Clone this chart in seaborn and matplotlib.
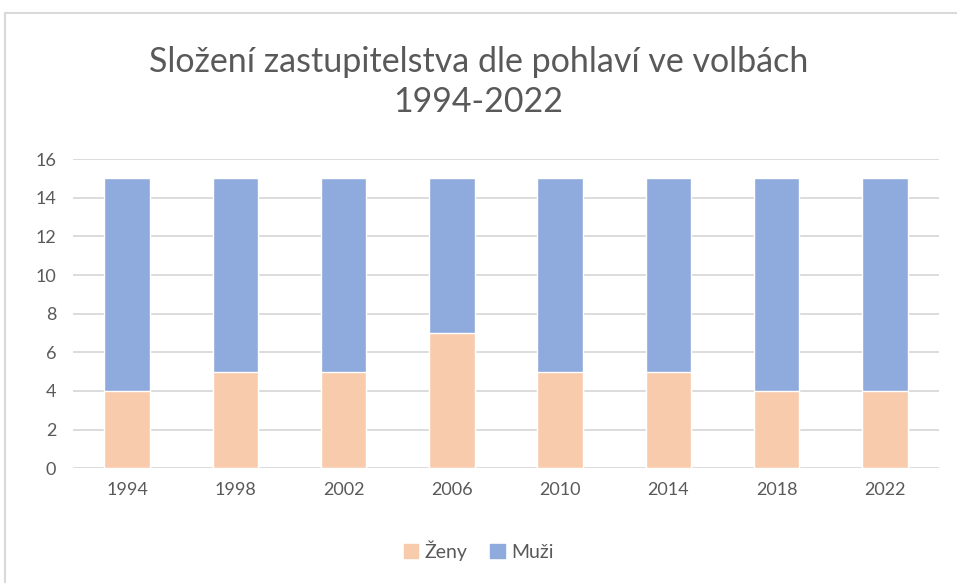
import matplotlib
matplotlib.use("Agg")
import matplotlib.pyplot as plt
import matplotlib.patches as mpatches
import seaborn as sns
import pandas as pd

# data
years = ["1994", "1998", "2002", "2006", "2010", "2014", "2018", "2022"]
zeny = [4, 5, 5, 7, 5, 5, 4, 4]
muzi = [11, 10, 10, 8, 10, 10, 11, 11]

ZENY_COLOR = "#F8CBAD"
MUZI_COLOR = "#8FAADC"
TEXT_COLOR = "#595959"

df = pd.DataFrame({"rok": years, "Ženy": zeny, "Muži": muzi})
df["celkem"] = df["Ženy"] + df["Muži"]

sns.set_style("white")
plt.rcParams["font.family"] = ["Lato", "DejaVu Sans"]

fig = plt.figure(figsize=(9.57, 5.83), dpi=100)
ax = fig.add_axes([0.0763, 0.197, 0.905, 0.530])

# stacked: total first (blue), women on top of it from zero
sns.barplot(data=df, x="rok", y="celkem", color=MUZI_COLOR, width=0.42,
            saturation=1, ax=ax, zorder=3)
sns.barplot(data=df, x="rok", y="Ženy", color=ZENY_COLOR, width=0.42,
            saturation=1, ax=ax, zorder=3)

ax.set_ylim(0, 16)
ax.set_yticks(range(0, 17, 2))
ax.set_xlim(-0.5, len(years) - 0.5)
ax.yaxis.grid(True, color="#D9D9D9", linewidth=1.3, zorder=0)
ax.set_axisbelow(True)
for s in ax.spines.values():
    s.set_visible(False)
ax.tick_params(axis="both", length=0, labelsize=13, colors=TEXT_COLOR, pad=10)
ax.tick_params(axis="y", pad=12)
ax.set_xlabel("")
ax.set_ylabel("")

fig.text(0.5, 0.859, "Složení zastupitelstva dle pohlaví ve volbách\n1994-2022",
         ha="center", va="center", fontsize=24.5, color=TEXT_COLOR, linespacing=1.3)

handles = [mpatches.Patch(color=ZENY_COLOR, label="Ženy"),
           mpatches.Patch(color=MUZI_COLOR, label="Muži")]
fig.legend(handles=handles, loc="center", bbox_to_anchor=(0.5, 0.056), ncol=2,
           frameon=False, fontsize=14, labelcolor=TEXT_COLOR,
           handlelength=0.75, handleheight=0.75, handletextpad=0.3, columnspacing=1.2)

# light chart border
fig.add_artist(mpatches.Rectangle((5 / 957, -0.05), 1.0, 1 - 13 / 583 + 0.05,
                                  transform=fig.transFigure, fill=False,
                                  edgecolor="#D9D9D9", linewidth=1.5))

fig.savefig("out.png", dpi=100, facecolor="white")
